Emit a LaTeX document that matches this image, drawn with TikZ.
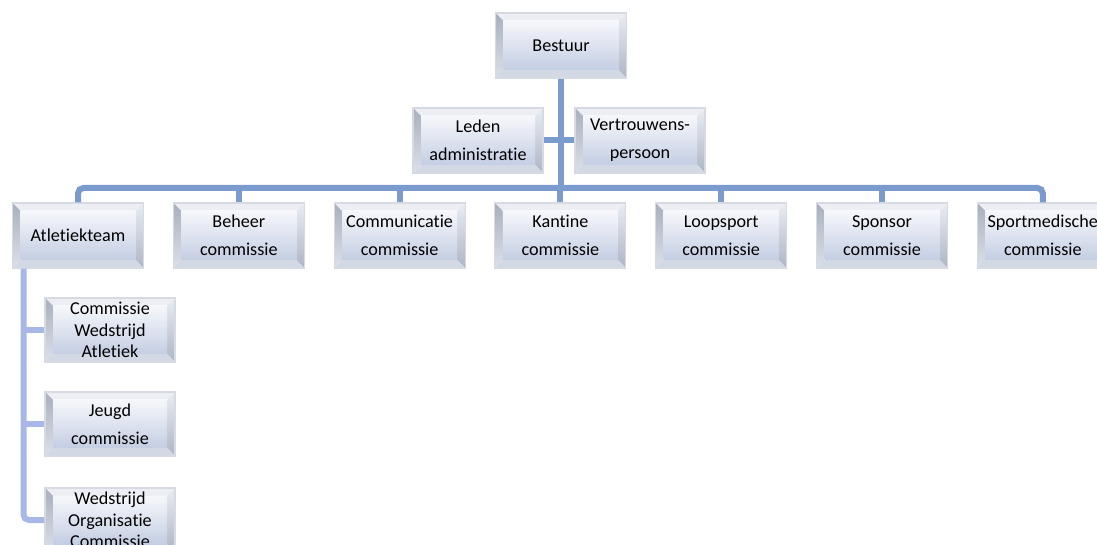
\documentclass[tikz,border=0pt]{standalone}
\usepackage{fontspec}
\setmainfont{Carlito}[Ligatures={NoCommon,NoContextual}]
\definecolor{mainline}{HTML}{7B9BCF}
\definecolor{sideline}{HTML}{A7B7E6}
\definecolor{boxedge}{HTML}{D6DAE2}
\definecolor{facetop}{HTML}{F6F7FB}
\definecolor{facebot}{HTML}{C4CEE3}
\definecolor{bevtop}{HTML}{ECEEF3}
\definecolor{bevleftA}{HTML}{A9AFBD}
\definecolor{bevleftB}{HTML}{DCE0E9}
\definecolor{bevrightA}{HTML}{E9ECF2}
\definecolor{bevrightB}{HTML}{AEB5C5}
\definecolor{bevbot}{HTML}{D2D8E4}
\tikzset{
  bevbox/.style={
    minimum width=98.25pt, minimum height=48.75pt, inner sep=0pt,
    align=center, text=black, font=\fontsize{13.6}{21}\selectfont,
    draw=boxedge, line width=0.8pt,
    path picture={
      \def\bw{6pt}
      \fill[bevtop] (path picture bounding box.north west) -- (path picture bounding box.north east)
        -- ([shift={(-\bw,-\bw)}]path picture bounding box.north east)
        -- ([shift={(\bw,-\bw)}]path picture bounding box.north west) -- cycle;
      \shade[top color=bevleftA, bottom color=bevleftB] (path picture bounding box.north west) -- (path picture bounding box.south west)
        -- ([shift={(\bw,\bw)}]path picture bounding box.south west)
        -- ([shift={(\bw,-\bw)}]path picture bounding box.north west) -- cycle;
      \shade[top color=bevrightA, bottom color=bevrightB] (path picture bounding box.north east) -- (path picture bounding box.south east)
        -- ([shift={(-\bw,\bw)}]path picture bounding box.south east)
        -- ([shift={(-\bw,-\bw)}]path picture bounding box.north east) -- cycle;
      \fill[bevbot] (path picture bounding box.south west) -- (path picture bounding box.south east)
        -- ([shift={(-\bw,\bw)}]path picture bounding box.south east)
        -- ([shift={(\bw,\bw)}]path picture bounding box.south west) -- cycle;
      \shade[top color=facetop, bottom color=facebot]
        ([shift={(\bw,-\bw)}]path picture bounding box.north west) rectangle
        ([shift={(-\bw,\bw)}]path picture bounding box.south east);
    }},
  childbox/.style={bevbox, minimum width=97.5pt, minimum height=48pt, font=\fontsize{13.6}{16.3}\selectfont},
  conn/.style={draw=mainline, line width=4.5pt, rounded corners=4pt},
  sconn/.style={draw=sideline, line width=4.5pt, rounded corners=4pt}
}
\begin{document}
\begin{tikzpicture}[x=0.75pt, y=-0.75pt]
\useasboundingbox (0,0) rectangle (1097,545);
\clip (0,0) rectangle (1097,545);
% nodes
\node[bevbox] (bs) at (561,45.5) {Bestuur};
\node[bevbox, minimum width=97.5pt] (ld) at (478,140.5) {Leden\\administratie};
\node[bevbox, minimum width=97.5pt] (vp) at (640,140.5) {Vertrouwens-\\persoon};
\node[bevbox] (at) at (78,235.5) {Atletiekteam};
\node[bevbox] (be) at (238.8,235.5) {Beheer\\commissie};
\node[bevbox] (co) at (399.6,235.5) {Communicatie\\commissie};
\node[bevbox] (ka) at (560.4,235.5) {Kantine\\commissie};
\node[bevbox] (lo) at (721.2,235.5) {Loopsport\\commissie};
\node[bevbox] (sp) at (882,235.5) {Sponsor\\commissie};
\node[bevbox] (sm) at (1042.8,235.5) {Sportmedische\\commissie};
\node[childbox] (c1) at (110,330) {Commissie\\Wedstrijd\\Atletiek};
\node[childbox] (c2) at (110,424) {Jeugd\\[5pt]commissie};
\node[childbox] (c3) at (110,520) {Wedstrijd\\Organisatie\\Commissie};
% helper coordinates
\coordinate (bus) at (561,188);
\coordinate (lx) at (23.5,0);
% connectors
\draw[conn] (bs.south) -- (bs.south |- bus);
\draw[conn] (ld.east) -- (vp.west);
\draw[conn] (at.north) |- (bus) -| (sm.north);
\draw[conn] (be.north) -- (be.north |- bus);
\draw[conn] (co.north) -- (co.north |- bus);
\draw[conn] (ka.north) -- (ka.north |- bus);
\draw[conn] (lo.north) -- (lo.north |- bus);
\draw[conn] (sp.north) -- (sp.north |- bus);
\draw[sconn] (at.south -| lx) |- (c3.west);
\draw[sconn] (lx |- c1.west) -- (c1.west);
\draw[sconn] (lx |- c2.west) -- (c2.west);
\end{tikzpicture}
\end{document}
